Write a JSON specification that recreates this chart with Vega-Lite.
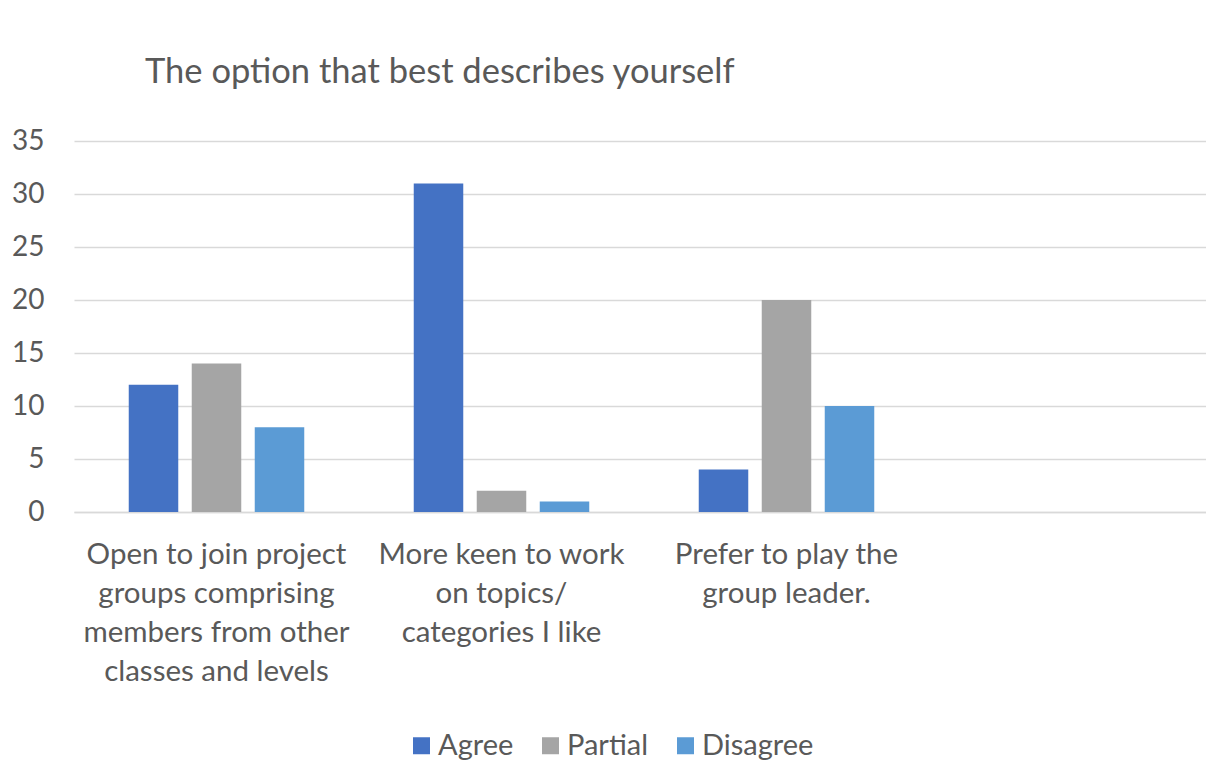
{
  "$schema": "https://vega.github.io/schema/vega-lite/v6.json",
  "autosize": "none",
  "padding": {"left": 74, "top": 141, "right": 0, "bottom": 268},
  "width": 1132,
  "height": 371,
  "background": "white",
  "title": {
    "text": "The option that best describes yourself",
    "anchor": "start",
    "frame": "group",
    "dx": 71,
    "offset": 37,
    "font": "Lato",
    "fontSize": 34.5,
    "fontWeight": "normal",
    "color": "#595959"
  },
  "data": {
    "values": [
      {"statement": "Open to join project|groups comprising|members from other|classes and levels", "response": "Agree", "count": 12},
      {"statement": "Open to join project|groups comprising|members from other|classes and levels", "response": "Partial", "count": 14},
      {"statement": "Open to join project|groups comprising|members from other|classes and levels", "response": "Disagree", "count": 8},
      {"statement": "More keen to work|on topics/|categories I like", "response": "Agree", "count": 31},
      {"statement": "More keen to work|on topics/|categories I like", "response": "Partial", "count": 2},
      {"statement": "More keen to work|on topics/|categories I like", "response": "Disagree", "count": 1},
      {"statement": "Prefer to play the|group leader.", "response": "Agree", "count": 4},
      {"statement": "Prefer to play the|group leader.", "response": "Partial", "count": 20},
      {"statement": "Prefer to play the|group leader.", "response": "Disagree", "count": 10}
    ]
  },
  "mark": {"type": "bar"},
  "encoding": {
    "x": {
      "field": "statement",
      "type": "nominal",
      "sort": null,
      "scale": {
        "domain": [
          "Open to join project|groups comprising|members from other|classes and levels",
          "More keen to work|on topics/|categories I like",
          "Prefer to play the|group leader.",
          " "
        ],
        "range": [0, 1140],
        "paddingInner": 0,
        "paddingOuter": 0
      },
      "axis": {
        "title": null,
        "labelAngle": 0,
        "labelExpr": "split(datum.label, '|')",
        "labelFont": "Lato",
        "labelFontSize": 29.5,
        "labelColor": "#595959",
        "labelLineHeight": 39,
        "labelPadding": 28,
        "labelBaseline": "top",
        "labelLimit": 0,
        "ticks": false,
        "domain": true,
        "domainColor": "#d9d9d9",
        "domainWidth": 1.5,
        "grid": false
      }
    },
    "xOffset": {
      "field": "response",
      "type": "nominal",
      "sort": ["Agree", "Partial", "Disagree"],
      "scale": {"paddingInner": 0.214, "paddingOuter": 0.869}
    },
    "y": {
      "field": "count",
      "type": "quantitative",
      "scale": {"domain": [0, 35], "nice": false},
      "axis": {
        "title": null,
        "values": [0, 5, 10, 15, 20, 25, 30, 35],
        "labelFont": "Lato",
        "labelFontSize": 28,
        "labelColor": "#595959",
        "labelPadding": 30,
        "ticks": false,
        "domain": false,
        "gridColor": "#d9d9d9",
        "gridWidth": 1.5
      }
    },
    "color": {
      "field": "response",
      "type": "nominal",
      "sort": ["Agree", "Partial", "Disagree"],
      "scale": {"domain": ["Agree", "Partial", "Disagree"], "range": ["#4472C4", "#A5A5A5", "#5B9BD5"]},
      "legend": {
        "title": null,
        "orient": "none",
        "direction": "horizontal",
        "legendX": 333,
        "legendY": 590,
        "padding": 0,
        "symbolType": "square",
        "symbolSize": 289,
        "symbolStrokeWidth": 0,
        "symbolOpacity": 1,
        "labelFont": "Lato",
        "labelFontSize": 29,
        "labelColor": "#595959",
        "labelOffset": 2,
        "columnPadding": 22
      }
    }
  },
  "config": {
    "view": {"stroke": null}
  }
}
